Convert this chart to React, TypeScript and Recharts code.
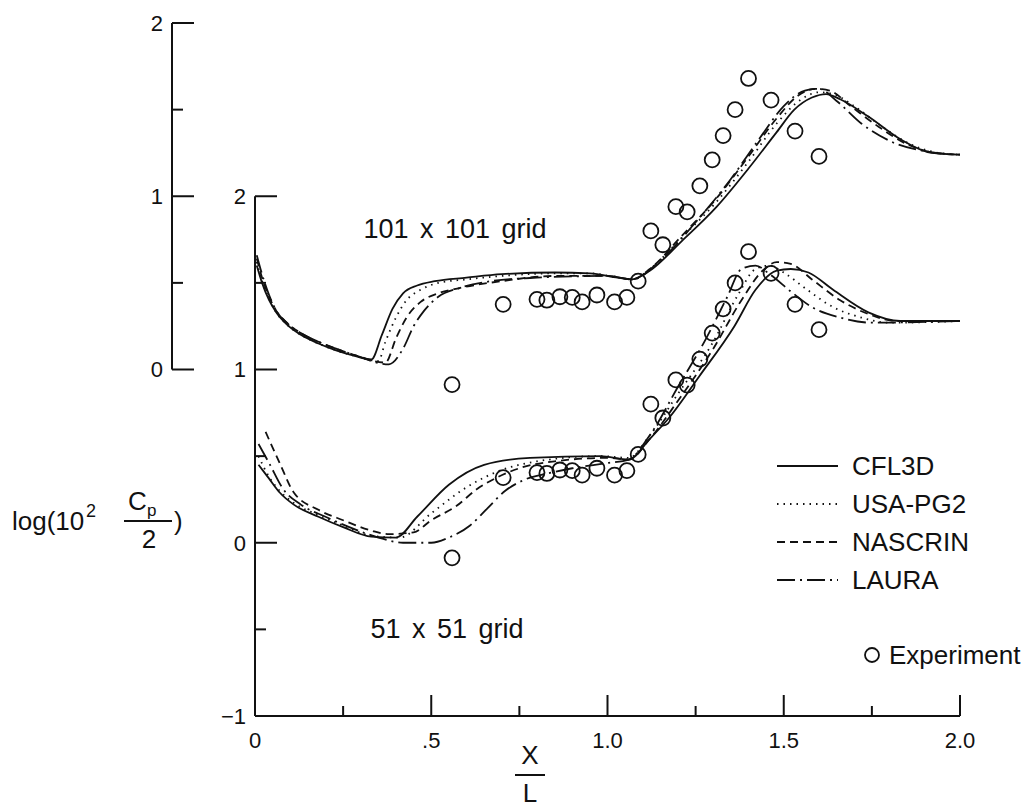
import React from "react";
import {
  ComposedChart,
  Line,
  ReferenceLine,
  Scatter,
  XAxis,
  YAxis,
} from "recharts";

type Pt = [number, number];

const FONT = "'Liberation Sans', Arial, Helvetica, sans-serif";
const INK = "#111";

// Axis ticks
const X_TICKS = [0, 0.25, 0.5, 0.75, 1, 1.25, 1.5, 1.75, 2];
const X_LABELS: Record<string, string> = { "0": "0", "0.5": ".5", "1": "1.0", "1.5": "1.5", "2": "2.0" };
const LOWER_TICKS = [-1, -0.5, 0, 0.5, 1, 1.5, 2];
const LOWER_LABELS: Record<string, string> = { "-1": "\u22121", "0": "0", "1": "1", "2": "2" };
const UPPER_TICKS = [0, 0.5, 1, 1.5, 2];
const UPPER_LABELS: Record<string, string> = { "0": "0", "1": "1", "2": "2" };

// Experiment (same points shown on both grids)
const EXP_X = [0.559, 0.704, 0.8, 0.828, 0.865, 0.9, 0.928, 0.97, 1.02, 1.055, 1.087, 1.123, 1.157, 1.194, 1.226, 1.262, 1.297, 1.328, 1.362, 1.4, 1.464, 1.532, 1.6];
const EXP_Y = [-0.087, 0.376, 0.405, 0.4, 0.42, 0.416, 0.39, 0.43, 0.39, 0.416, 0.51, 0.8, 0.72, 0.94, 0.91, 1.06, 1.21, 1.35, 1.5, 1.68, 1.555, 1.376, 1.23];

// 101 x 101 grid (upper axis)
const UP_CFL3D: Pt[] = [[0.005, 0.6], [0.02, 0.5], [0.04, 0.4], [0.06, 0.33], [0.09, 0.26], [0.13, 0.2], [0.18, 0.15], [0.23, 0.11], [0.28, 0.08], [0.33, 0.058], [0.36, 0.2], [0.39, 0.35], [0.42, 0.44], [0.46, 0.485], [0.51, 0.51], [0.6, 0.53], [0.7, 0.55], [0.85, 0.56], [0.95, 0.555], [1.03, 0.53], [1.07, 0.52], [1.12, 0.57], [1.21, 0.74], [1.31, 0.94], [1.4, 1.16], [1.48, 1.37], [1.53, 1.5], [1.58, 1.57], [1.62, 1.59], [1.66, 1.56], [1.74, 1.46], [1.83, 1.33], [1.92, 1.25], [2.0, 1.24]];
const UP_USAPG2: Pt[] = [[0.005, 0.62], [0.02, 0.51], [0.04, 0.41], [0.06, 0.33], [0.09, 0.26], [0.13, 0.2], [0.18, 0.15], [0.23, 0.11], [0.28, 0.08], [0.35, 0.05], [0.37, 0.16], [0.4, 0.3], [0.43, 0.4], [0.47, 0.46], [0.52, 0.5], [0.6, 0.52], [0.7, 0.54], [0.85, 0.555], [0.95, 0.555], [1.03, 0.53], [1.07, 0.52], [1.12, 0.58], [1.21, 0.76], [1.31, 0.97], [1.4, 1.2], [1.48, 1.42], [1.55, 1.56], [1.6, 1.6], [1.64, 1.59], [1.7, 1.52], [1.78, 1.4], [1.86, 1.3], [1.94, 1.25], [2.0, 1.24]];
const UP_NASCRIN: Pt[] = [[0.005, 0.64], [0.02, 0.53], [0.04, 0.42], [0.06, 0.34], [0.09, 0.27], [0.13, 0.21], [0.18, 0.16], [0.23, 0.12], [0.28, 0.085], [0.37, 0.04], [0.4, 0.18], [0.43, 0.3], [0.47, 0.39], [0.52, 0.44], [0.58, 0.47], [0.7, 0.51], [0.85, 0.54], [1.0, 0.54], [1.07, 0.52], [1.12, 0.58], [1.21, 0.77], [1.31, 0.99], [1.4, 1.23], [1.48, 1.45], [1.54, 1.58], [1.59, 1.62], [1.63, 1.61], [1.69, 1.52], [1.77, 1.4], [1.85, 1.3], [1.93, 1.25], [2.0, 1.24]];
const UP_LAURA: Pt[] = [[0.005, 0.66], [0.02, 0.55], [0.04, 0.43], [0.06, 0.34], [0.09, 0.27], [0.13, 0.21], [0.18, 0.16], [0.23, 0.12], [0.28, 0.085], [0.38, 0.03], [0.42, 0.12], [0.45, 0.25], [0.48, 0.34], [0.52, 0.42], [0.58, 0.47], [0.67, 0.51], [0.8, 0.53], [1.0, 0.54], [1.07, 0.52], [1.15, 0.63], [1.25, 0.85], [1.35, 1.1], [1.43, 1.33], [1.5, 1.52], [1.56, 1.61], [1.6, 1.62], [1.65, 1.55], [1.72, 1.42], [1.8, 1.32], [1.9, 1.26], [2.0, 1.24]];

// 51 x 51 grid (lower axis)
const LO_CFL3D: Pt[] = [[0.01, 0.45], [0.04, 0.37], [0.07, 0.29], [0.11, 0.22], [0.18, 0.15], [0.25, 0.09], [0.33, 0.035], [0.4, 0.03], [0.46, 0.15], [0.55, 0.335], [0.65, 0.45], [0.78, 0.49], [0.98, 0.5], [1.06, 0.48], [1.12, 0.6], [1.17, 0.71], [1.26, 0.96], [1.36, 1.25], [1.42, 1.46], [1.48, 1.57], [1.52, 1.58], [1.57, 1.56], [1.64, 1.46], [1.74, 1.33], [1.83, 1.28], [2.0, 1.28]];
const LO_USAPG2: Pt[] = [[0.01, 0.5], [0.04, 0.38], [0.07, 0.3], [0.11, 0.23], [0.18, 0.16], [0.25, 0.1], [0.33, 0.04], [0.41, 0.03], [0.5, 0.17], [0.6, 0.32], [0.7, 0.42], [0.8, 0.47], [0.98, 0.5], [1.06, 0.49], [1.12, 0.62], [1.2, 0.86], [1.3, 1.16], [1.37, 1.43], [1.42, 1.58], [1.46, 1.6], [1.5, 1.56], [1.56, 1.47], [1.64, 1.36], [1.72, 1.3], [1.8, 1.27], [2.0, 1.28]];
const LO_NASCRIN: Pt[] = [[0.03, 0.64], [0.07, 0.46], [0.11, 0.29], [0.18, 0.19], [0.25, 0.13], [0.33, 0.07], [0.38, 0.05], [0.45, 0.06], [0.5, 0.13], [0.57, 0.21], [0.63, 0.31], [0.69, 0.38], [0.75, 0.43], [0.85, 0.47], [1.0, 0.49], [1.06, 0.48], [1.12, 0.6], [1.2, 0.82], [1.3, 1.12], [1.38, 1.4], [1.44, 1.57], [1.48, 1.62], [1.52, 1.61], [1.58, 1.52], [1.66, 1.4], [1.74, 1.32], [1.82, 1.28], [2.0, 1.28]];
const LO_LAURA: Pt[] = [[0.01, 0.57], [0.04, 0.46], [0.08, 0.31], [0.13, 0.22], [0.2, 0.15], [0.28, 0.08], [0.35, 0.03], [0.42, 0.0], [0.5, 0.0], [0.55, 0.03], [0.61, 0.1], [0.66, 0.2], [0.71, 0.3], [0.76, 0.36], [0.83, 0.4], [0.9, 0.43], [1.0, 0.46], [1.06, 0.48], [1.12, 0.62], [1.2, 0.9], [1.28, 1.18], [1.34, 1.42], [1.38, 1.58], [1.42, 1.6], [1.46, 1.55], [1.52, 1.45], [1.58, 1.36], [1.66, 1.3], [1.75, 1.27], [2.0, 1.28]];

// line styles per code
const SOLVERS = [
  { name: "CFL3D", up: UP_CFL3D, lo: LO_CFL3D, dash: undefined as string | undefined },
  { name: "USA-PG2", up: UP_USAPG2, lo: LO_USAPG2, dash: "1.5 5" },
  { name: "NASCRIN", up: UP_NASCRIN, lo: LO_NASCRIN, dash: "8 5" },
  { name: "LAURA", up: UP_LAURA, lo: LO_LAURA, dash: "18 5 2 5" },
];

// layout
const CHART_W = 1024;
const CHART_H = 812;
const LOWER_AXIS_W = 83;
const UPPER_AXIS_W = 60;
const MARGIN = { top: 23, right: 64, bottom: 36, left: 112 };
const PLOT_W = CHART_W - MARGIN.left - LOWER_AXIS_W - UPPER_AXIS_W - MARGIN.right;
// upper axis sits one axis-width left of x = 0, in x/L units
const UPPER_AXIS_X = (-LOWER_AXIS_W / PLOT_W) * 2;

const rows = (pts: Pt[]) => pts.map(([x, v]) => ({ x, v }));
const expRows = EXP_X.map((x, i) => ({ x, v: EXP_Y[i] }));

function YTick(props: any) {
  const { x, y, payload, labels } = props;
  const val = payload.value as number;
  const key = String(val);
  const major = Number.isInteger(val);
  const isCorner = val === -1;
  return (
    <g>
      {!isCorner && (
        <line x1={x} x2={x + (major ? 22 : 11)} y1={y} y2={y} stroke={INK} strokeWidth={2} />
      )}
      {labels[key] && (
        <text x={x - 9} y={y} dy="0.36em" textAnchor="end" fontSize={22} fontFamily={FONT} fill={INK}>
          {labels[key]}
        </text>
      )}
    </g>
  );
}

function XTick(props: any) {
  const { x, y, payload } = props;
  const val = payload.value as number;
  const key = String(val);
  const major = Number.isInteger(val * 2);
  return (
    <g>
      {val !== 0 && (
        <line x1={x} x2={x} y1={y} y2={y - (major ? 21 : 10)} stroke={INK} strokeWidth={2} />
      )}
      {X_LABELS[key] && (
        <text x={x} y={y + 32} textAnchor="middle" fontSize={22} fontFamily={FONT} fill={INK}>
          {X_LABELS[key]}
        </text>
      )}
    </g>
  );
}

function Ring(props: any) {
  const { cx, cy } = props;
  if (cx == null || cy == null) return null;
  return <circle cx={cx} cy={cy} r={7.5} fill="none" stroke={INK} strokeWidth={1.8} />;
}

function Annotations() {
  const legendRows = [466, 504, 542, 580];
  return (
    <svg
      width={CHART_W}
      height={CHART_H}
      style={{ position: "absolute", left: 0, top: 0, pointerEvents: "none" }}
      fontFamily={FONT}
      fill={INK}
    >
      <text x={455} y={238} textAnchor="middle" fontSize={27} wordSpacing={4}>
        101 x 101 grid
      </text>
      <text x={447} y={638} textAnchor="middle" fontSize={27} wordSpacing={4}>
        51 x 51 grid
      </text>

      {/* y title: log(10^2 Cp/2) */}
      <text x={12} y={530} fontSize={26}>log(10</text>
      <text x={86} y={517} fontSize={18}>2</text>
      <text x={128} y={510} fontSize={26}>C</text>
      <text x={147} y={516} fontSize={17}>p</text>
      <line x1={124} x2={172} y1={521} y2={521} stroke={INK} strokeWidth={2} />
      <text x={149} y={548} fontSize={26} textAnchor="middle">2</text>
      <text x={174} y={530} fontSize={26}>)</text>

      {/* x title: X/L */}
      <text x={530} y={764} fontSize={26} textAnchor="middle">X</text>
      <line x1={515} x2={545} y1={775} y2={775} stroke={INK} strokeWidth={2} />
      <text x={530} y={802} fontSize={26} textAnchor="middle">L</text>

      {/* legend */}
      {SOLVERS.map((s, i) => (
        <g key={s.name}>
          <line
            x1={777}
            x2={838}
            y1={legendRows[i]}
            y2={legendRows[i]}
            stroke={INK}
            strokeWidth={2}
            strokeDasharray={s.dash}
          />
          <text x={852} y={legendRows[i] + 9} fontSize={26}>
            {s.name}
          </text>
        </g>
      ))}
      <circle cx={872} cy={655} r={7} fill="none" stroke={INK} strokeWidth={1.8} />
      <text x={889} y={664} fontSize={26}>Experiment</text>
    </svg>
  );
}

export default function App() {
  return (
    <div style={{ position: "absolute", left: 0, top: 0, width: CHART_W, height: CHART_H, background: "#fff" }}>
      <ComposedChart width={CHART_W} height={CHART_H} margin={MARGIN}>
        <XAxis
          type="number"
          dataKey="x"
          domain={[0, 2]}
          ticks={X_TICKS}
          interval={0}
          height={60}
          tickSize={0}
          tickMargin={0}
          tickLine={false}
          axisLine={{ stroke: INK, strokeWidth: 2 }}
          tick={(p: any) => <XTick {...p} />}
        />
        <YAxis
          yAxisId="lower"
          type="number"
          domain={[-1, 3]}
          ticks={LOWER_TICKS}
          interval={0}
          width={LOWER_AXIS_W}
          tickSize={0}
          tickMargin={0}
          tickLine={false}
          axisLine={false}
          tick={(p: any) => <YTick {...p} labels={LOWER_LABELS} />}
        />
        <YAxis
          yAxisId="upper"
          type="number"
          domain={[-2, 2]}
          ticks={UPPER_TICKS}
          interval={0}
          width={UPPER_AXIS_W}
          tickSize={0}
          tickMargin={0}
          tickLine={false}
          axisLine={false}
          tick={(p: any) => <YTick {...p} labels={UPPER_LABELS} />}
        />

        {/* axis spines: the lower one stops at 2, the upper one spans 0..2 */}
        <ReferenceLine
          yAxisId="lower"
          segment={[{ x: 0, y: -1 }, { x: 0, y: 2 }]}
          stroke={INK}
          strokeWidth={2}
          ifOverflow="visible"
        />
        <ReferenceLine
          yAxisId="upper"
          segment={[{ x: UPPER_AXIS_X, y: 0 }, { x: UPPER_AXIS_X, y: 2 }]}
          stroke={INK}
          strokeWidth={2}
          ifOverflow="visible"
        />

        {SOLVERS.map((s) => (
          <Line
            key={`up-${s.name}`}
            yAxisId="upper"
            data={rows(s.up)}
            dataKey="v"
            type="monotone"
            stroke={INK}
            strokeWidth={1.8}
            strokeDasharray={s.dash}
            dot={false}
            activeDot={false}
            isAnimationActive={false}
          />
        ))}
        {SOLVERS.map((s) => (
          <Line
            key={`lo-${s.name}`}
            yAxisId="lower"
            data={rows(s.lo)}
            dataKey="v"
            type="monotone"
            stroke={INK}
            strokeWidth={1.8}
            strokeDasharray={s.dash}
            dot={false}
            activeDot={false}
            isAnimationActive={false}
          />
        ))}

        <Scatter yAxisId="upper" data={expRows} dataKey="v" shape={(p: any) => <Ring {...p} />} isAnimationActive={false} />
        <Scatter yAxisId="lower" data={expRows} dataKey="v" shape={(p: any) => <Ring {...p} />} isAnimationActive={false} />
      </ComposedChart>
      <Annotations />
    </div>
  );
}
